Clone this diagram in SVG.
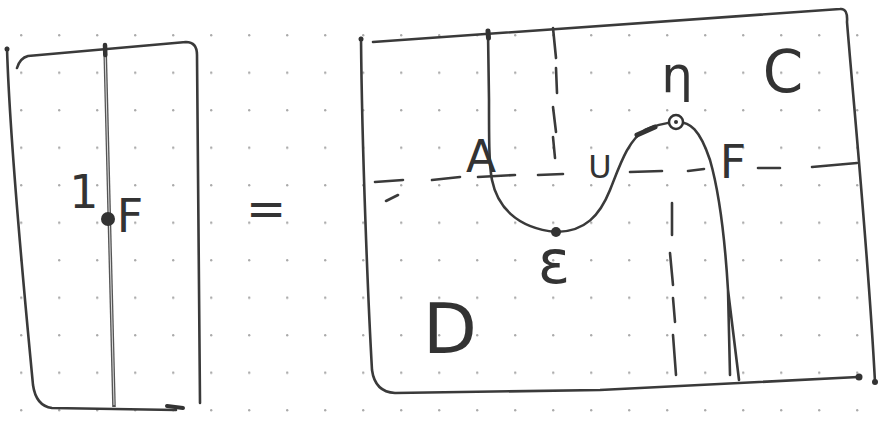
<svg xmlns="http://www.w3.org/2000/svg" width="885" height="427" viewBox="0 0 885 427">
<style>
.ink{fill:none;stroke:#3a3a3a;stroke-width:2.6;stroke-linecap:round;stroke-linejoin:round}
.dash{fill:none;stroke:#3a3a3a;stroke-width:2.6;stroke-linecap:round}
.lbl{font-family:"DejaVu Sans","Liberation Sans",sans-serif;fill:#333;text-anchor:middle}
</style>
<defs>
<pattern id="dots" x="20" y="34" width="38" height="37.5" patternUnits="userSpaceOnUse">
<circle cx="1.2" cy="1.2" r="1.2" fill="#aaa"/>
</pattern>
</defs>
<rect width="885" height="427" fill="#fff"/>
<rect width="885" height="427" fill="url(#dots)"/>

<g id="left-panel">
<path class="ink" d="M7,48 C10,150 25,300 33,385 Q36,406 52,408 L176,410"/>
<path class="ink" d="M17,68 Q20,58 28,56 L186,42 Q197,42 197,55 L200,403"/>
<path d="M167,406 L183,408" stroke="#333" stroke-width="4" stroke-linecap="round"/>
<circle cx="7" cy="49" r="2.5" fill="#333"/>
<path d="M105,45 L114,407" stroke="#555" stroke-width="3.6" fill="none"/>
<path d="M105,47 L114,405" stroke="#ddd" stroke-width="1" fill="none"/>
<path d="M105,45 L105.3,55" stroke="#333" stroke-width="4.5" stroke-linecap="round"/>
<circle cx="108" cy="219" r="7" fill="#333"/>
<text class="lbl" x="84" y="208" font-size="46">1</text>
<text class="lbl" x="130" y="232" font-size="46">F</text>
</g>

<g id="equals">
<text class="lbl" x="266" y="225" font-size="48">=</text>
</g>

<g id="right-panel">
<path class="ink" d="M361,38 C362,150 368,300 372,370 Q375,392 395,393 L600,390 L858,377"/>
<path class="ink" d="M373,42 L840,9 Q848,8 847,22 C855,120 868,250 875,382"/>
<circle cx="361" cy="39" r="2.5" fill="#333"/>
<circle cx="859" cy="377" r="3.5" fill="#333"/>
<circle cx="875" cy="382" r="3" fill="#333"/>
<text class="lbl" x="783" y="92" font-size="58">C</text>
<text class="lbl" x="450" y="353" font-size="70">D</text>
</g>

<g id="dashed-lines">
<path class="dash" d="M375,182 L403,180 M432,180 L460,177 M478,177 L515,175 M538,175 L563,174 M630,172 L662,171 M688,171 L704,169 M758,168 L780,168 M812,167 L857,163"/>
<path class="dash" d="M553,28 L556,58 M556,68 L557,93 M553,107 L556,132 M553,137 L555,158"/>
<path class="dash" d="M672,203 L672,235 M670,253 L673,285 M673,298 L675,322 M673,335 L676,375"/>
<path class="dash" d="M386,201 L398,195"/>
</g>

<g id="curve">
<path class="ink" d="M488,32 L489,100 C489,140 489,165 492,180 C497,205 515,228 556,232 C585,232 600,215 610,190 C620,165 628,140 645,130 C655,125 665,123 676,122 C690,121 700,130 710,160 C720,195 725,240 728,290 L730,375 M728,290 L739,380"/>
<path d="M637,135 L655,127" stroke="#333" stroke-width="5" stroke-linecap="round"/>
<path d="M488,31 L488.5,38" stroke="#333" stroke-width="5" stroke-linecap="round"/>
</g>

<g id="point-epsilon">
<circle cx="556" cy="232" r="5" fill="#333"/>
<text class="lbl" x="554" y="283" font-size="60">ε</text>
</g>
<g id="point-eta">
<circle cx="676" cy="122" r="7" fill="#fff" stroke="#333" stroke-width="2.5"/>
<circle cx="676" cy="122" r="2" fill="#333"/>
<text class="lbl" x="677" y="92" font-size="50">η</text>
</g>
<g id="label-A">
<text class="lbl" x="481" y="172" font-size="44">A</text>
</g>
<g id="label-U">
<text class="lbl" x="600" y="178" font-size="32">U</text>
</g>
<g id="label-F">
<text class="lbl" x="733" y="178" font-size="46">F</text>
</g>
</svg>
